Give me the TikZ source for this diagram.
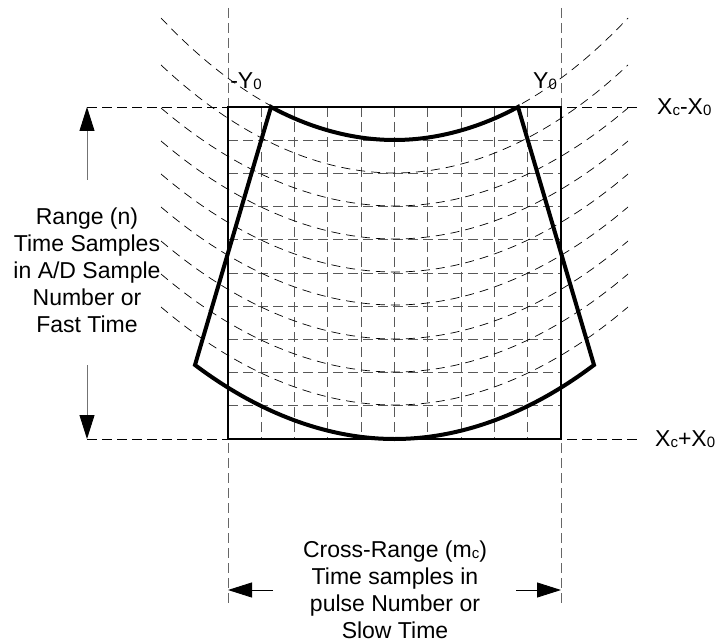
\documentclass[tikz,border=0pt]{standalone}
\usepackage{fontspec}
\setmainfont{Liberation Sans}
\usetikzlibrary{arrows.meta}

\newcommand{\sbs}[1]{\raisebox{-1pt}{\fontsize{15}{15}\selectfont #1}}

\begin{document}
\begin{tikzpicture}[x=1pt,y=-1pt,
  gridline/.style={draw=black!65,dash pattern=on 10pt off 5pt,line width=0.9pt},
  guide/.style={draw=black!60,dash pattern=on 10pt off 5pt,line width=0.9pt},
  rangearc/.style={draw=black,dash pattern=on 9pt off 6pt,line width=0.7pt},
  frame/.style={draw=black,line width=2.3pt},
  swath/.style={draw=black,line width=4pt,line join=miter},
  arr/.style={-{Triangle[length=24pt,width=15pt,color=black]},line width=0.9pt},
  lbl/.style={font=\fontsize{23}{27}\selectfont,align=center,inner sep=0pt},
  tag/.style={font=\fontsize{23}{27}\selectfont,inner sep=0pt}
]
\useasboundingbox (0,0) rectangle (719,644);

% corners of the data block
\coordinate (nw) at (228,107);
\coordinate (ne) at (561,107);
\coordinate (sw) at (228,439);
\coordinate (se) at (561,439);

% sample grid
\foreach \i in {1,...,9} {
  \draw[gridline] ({228+33.3*\i},107) -- ({228+33.3*\i},439);
  \draw[gridline] (228,{107+33.2*\i}) -- (561,{107+33.2*\i});
}

% guides
\draw[guide] (228,8) -- (228,604);
\draw[guide] (561,8) -- (561,604);
\draw[guide,draw=black] (87,107) -- (638,107);
\draw[guide,draw=black] (87,439) -- (638,439);

% constant range curves
\foreach \b/\r in {140/122,173/108,206/98,239/98,272/98,305/98,339/98,372/98,405/98}
  \draw[rangearc] (161,{\b-\r}) parabola bend (394.5,\b) (628,{\b-\r});

\draw[frame] (nw) rectangle (se);

% imaged swath
\draw[swath] (271,107) parabola bend (394.5,140) (518,107)
  -- (594,365) parabola bend (394.5,439) (195,365) -- cycle;

% labels
\node[tag] (lefty) at (246,81) {-Y\sbs{0}};
\node[tag] (righty) at (545,81) {Y\sbs{0}};
\node[tag,anchor=west] (xnear) at (657,107) {X\sbs{c}-X\sbs{0}};
\node[tag,anchor=west] (xfar) at (655,439) {X\sbs{c}+X\sbs{0}};

\node[lbl] (range) at (87,270) {Range (n)\\Time Samples\\in A/D Sample\\Number or\\Fast Time};
\node[lbl] (cross) at (395,590) {Cross-Range (m\sbs{c})\\Time samples in\\pulse Number or\\Slow Time};

\coordinate (rtop) at (87,180);
\coordinate (rbot) at (87,365);
\coordinate (cleft) at (273,590);
\coordinate (cright) at (516,590);

\draw[arr,draw=black!55] (rtop) -- (87,107);
\draw[arr,draw=black!55] (rbot) -- (87,439);
\draw[arr] (cleft) -- (228,590);
\draw[arr] (cright) -- (561,590);
\end{tikzpicture}
\end{document}
